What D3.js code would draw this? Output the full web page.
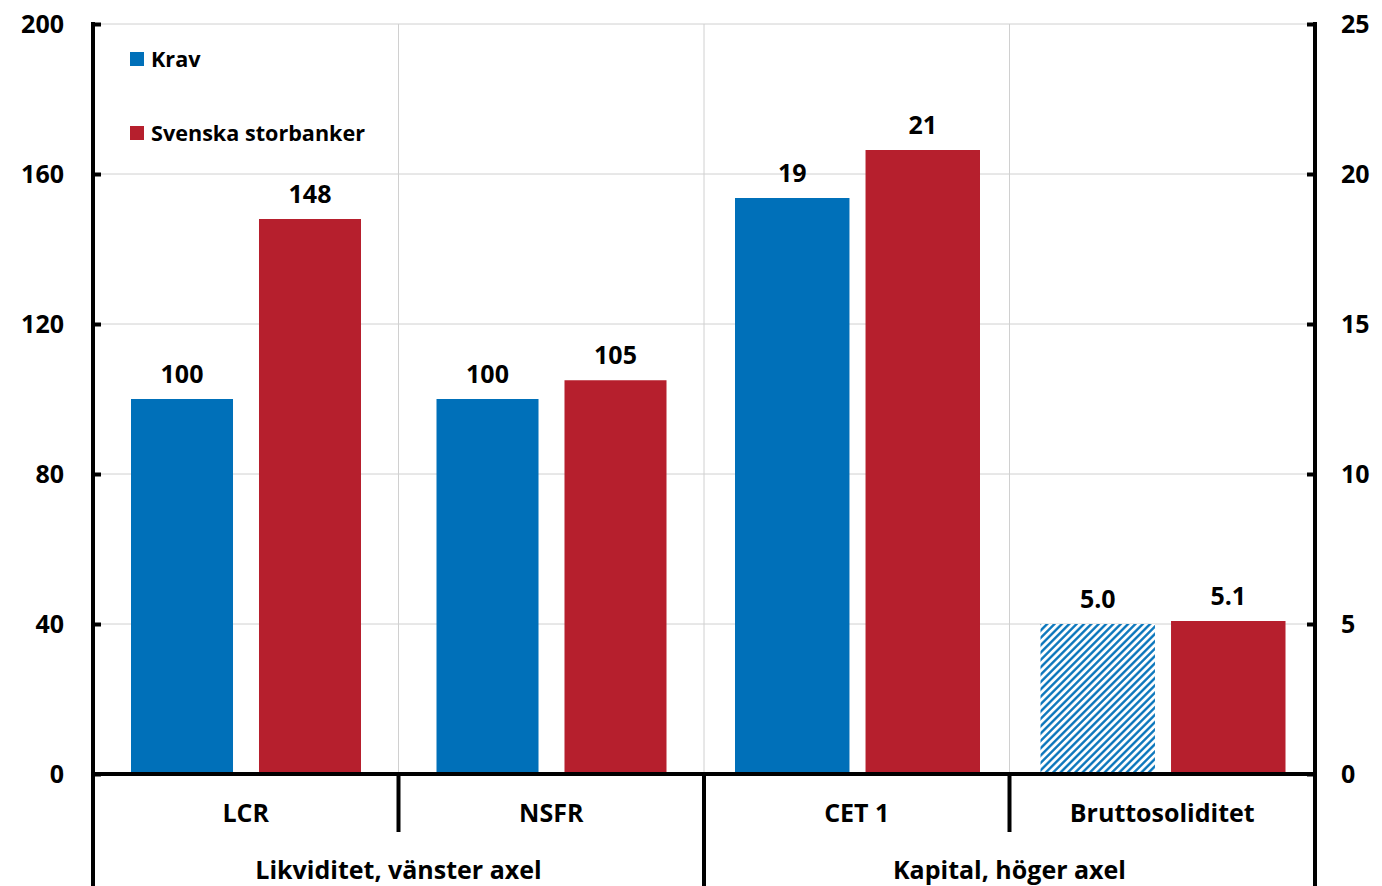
<!DOCTYPE html>
<html><head><meta charset="utf-8">
<script src="https://cdn.jsdelivr.net/npm/d3@7"></script>
<style>body{margin:0;background:#fff}svg{display:block}text{font-family:"Open Sans",Lato,sans-serif;font-weight:700;fill:#000}</style>
</head><body><div id="chart"></div>
<script>
const categories = ["LCR", "NSFR", "CET 1", "Bruttosoliditet"];
const axisSide = ["left", "left", "right", "right"];
const krav = [100, 100, 19.2, 5.0];
const storbanker = [148, 105, 20.8, 5.1];
const kravLabels = ["100", "100", "19", "5.0"];
const storbankerLabels = ["148", "105", "21", "5.1"];
const hatched = [false, false, false, true];
const seriesNames = ["Krav", "Svenska storbanker"];
const groupNames = ["Likviditet, vänster axel", "Kapital, höger axel"];
const leftTicks = [0, 40, 80, 120, 160, 200];
const rightTicks = [0, 5, 10, 15, 20, 25];

const W = 1382, H = 886;
const m = {left: 93, right: 67, top: 24, bottom: 112};
const x0 = m.left, x1 = W - m.right, y0 = H - m.bottom, yTop = m.top;
const blue = "#0070B9", red = "#B61F2D";
const FS = 25;

const svg = d3.select("#chart").append("svg").attr("width", W).attr("height", H);
const defs = svg.append("defs");
const pat = defs.append("pattern").attr("id", "hatch").attr("patternUnits", "userSpaceOnUse")
  .attr("width", 5.2).attr("height", 5.2).attr("patternTransform", "rotate(45)");
pat.append("rect").attr("width", 5.2).attr("height", 5.2).attr("fill", "#fff");
pat.append("line").attr("x1", 1.3).attr("x2", 1.3).attr("y1", 0).attr("y2", 5.2)
  .attr("stroke", blue).attr("stroke-width", 2.3);

const x = d3.scaleBand().domain(categories).range([x0, x1]);
const yL = d3.scaleLinear().domain([0, 200]).range([y0, yTop]);
const yR = d3.scaleLinear().domain([0, 25]).range([y0, yTop]);
const inner = {
  left: d3.scaleBand().domain(seriesNames).range([38, 268]).paddingInner(0.203),
  right: d3.scaleBand().domain(seriesNames).range([31, 276]).paddingInner(0.123)
};

// gridlines
svg.append("g").selectAll("line").data(leftTicks.slice(1)).join("line")
  .attr("x1", x0).attr("x2", x1).attr("y1", d => yL(d)).attr("y2", d => yL(d))
  .attr("stroke", "#d0d0d0").attr("stroke-width", 1);
svg.append("g").selectAll("line").data(categories.slice(1)).join("line")
  .attr("x1", d => x(d)).attr("x2", d => x(d)).attr("y1", yTop).attr("y2", y0)
  .attr("stroke", "#d0d0d0").attr("stroke-width", 1);

// bars
categories.forEach((c, i) => {
  const side = axisSide[i];
  const ys = side === "left" ? yL : yR;
  const ib = inner[side];
  const vals = [krav[i], storbanker[i]];
  const labs = [kravLabels[i], storbankerLabels[i]];
  seriesNames.forEach((s, j) => {
    const bx = x(c) + ib(s);
    const fill = j === 0 ? (hatched[i] ? "url(#hatch)" : blue) : red;
    svg.append("rect").attr("x", bx).attr("width", ib.bandwidth())
      .attr("y", ys(vals[j])).attr("height", y0 - ys(vals[j])).attr("fill", fill);
    svg.append("text").attr("x", bx + ib.bandwidth() / 2).attr("y", ys(vals[j]) - 16)
      .attr("text-anchor", "middle").attr("font-size", FS).text(labs[j]);
  });
});

// axes
const axL = svg.append("g").attr("transform", `translate(${x0},0)`)
  .call(d3.axisLeft(yL).tickValues(leftTicks).tickSize(-8).tickPadding(29));
const axR = svg.append("g").attr("transform", `translate(${x1},0)`)
  .call(d3.axisRight(yR).tickValues(rightTicks).tickSize(-8).tickPadding(26));
[axL, axR].forEach(a => {
  a.select(".domain").remove();
  a.selectAll(".tick line").attr("stroke", "#000").attr("stroke-width", 4);
  a.selectAll(".tick text").attr("font-size", FS).attr("font-family", "Open Sans").attr("font-weight", 700);
});
// vertical axis lines
svg.append("line").attr("x1", x0).attr("x2", x0).attr("y1", yTop - 2).attr("y2", H).attr("stroke", "#000").attr("stroke-width", 4);
svg.append("line").attr("x1", x1).attr("x2", x1).attr("y1", yTop - 2).attr("y2", H).attr("stroke", "#000").attr("stroke-width", 4);
// baseline
svg.append("line").attr("x1", x0).attr("x2", x1).attr("y1", y0).attr("y2", y0).attr("stroke", "#000").attr("stroke-width", 4);
// category dividers below axis
categories.slice(1).forEach((c, i) => {
  const long = (i === 1);
  svg.append("line").attr("x1", x(c)).attr("x2", x(c)).attr("y1", y0).attr("y2", long ? H : y0 + 58)
    .attr("stroke", "#000").attr("stroke-width", 4);
});
// category labels
svg.append("g").selectAll("text").data(categories).join("text")
  .attr("x", d => x(d) + x.bandwidth() / 2).attr("y", y0 + 48)
  .attr("text-anchor", "middle").attr("font-size", FS).text(d => d);
// group labels
groupNames.forEach((g, i) => {
  const cx = (x(categories[i * 2]) + x(categories[i * 2 + 1]) + x.bandwidth()) / 2;
  svg.append("text").attr("x", cx).attr("y", y0 + 105).attr("text-anchor", "middle").attr("font-size", FS).text(g);
});
// legend
const lg = svg.append("g").attr("transform", "translate(130,52)");
seriesNames.forEach((s, j) => {
  lg.append("rect").attr("x", 0).attr("y", j * 74).attr("width", 14).attr("height", 14).attr("fill", j === 0 ? blue : red);
  lg.append("text").attr("x", 21).attr("y", j * 74 + 15).attr("font-size", 21.6).text(s);
});
</script></body></html>
